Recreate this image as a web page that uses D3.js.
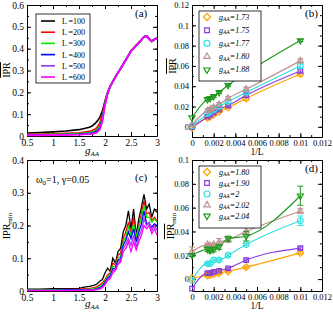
<!DOCTYPE html>
<html>
<head>
<meta charset="utf-8">
<script src="https://cdn.jsdelivr.net/npm/d3@7"></script>
<style>
body { margin: 0; background: #fff; }
text { font-family: "Liberation Serif", "DejaVu Serif", serif; fill: #000; }
</style>
</head>
<body>
<div id="chart"></div>
<script>
/* DATA */
// panels (a) and (c): system sizes
const sizeNames = ["100", "200", "300", "400", "500", "600"]
const sizeColors = ["#000000", "#ff0000", "#00ee00", "#0000ff", "#a035f0", "#ff00ff"]

// (a) mean IPR vs g_AA
const gA = [0.5, 0.75, 1, 1.25, 1.5, 1.6, 1.7, 1.75, 1.8, 1.85, 1.9, 1.95, 2, 2.05, 2.1, 2.2, 2.3, 2.4, 2.5, 2.6, 2.7, 2.75, 2.8, 2.85, 2.9, 2.95, 3]
const iprA100 = [0.014, 0.016, 0.019, 0.023, 0.029, 0.034, 0.040, 0.046, 0.055, 0.068, 0.085, 0.115, 0.160, 0.200, 0.228, 0.272, 0.310, 0.350, 0.390, 0.415, 0.440, 0.455, 0.458, 0.445, 0.433, 0.443, 0.448]
const iprA200 = [0.008, 0.009, 0.010, 0.012, 0.015, 0.018, 0.021, 0.025, 0.030, 0.040, 0.060, 0.100, 0.155, 0.198, 0.228, 0.272, 0.309, 0.349, 0.389, 0.415, 0.440, 0.455, 0.457, 0.445, 0.433, 0.442, 0.448]
const iprA300 = [0.006, 0.007, 0.008, 0.009, 0.011, 0.013, 0.016, 0.018, 0.022, 0.030, 0.045, 0.085, 0.150, 0.196, 0.227, 0.271, 0.309, 0.349, 0.389, 0.414, 0.440, 0.455, 0.457, 0.445, 0.434, 0.442, 0.448]
const iprA400 = [0.005, 0.005, 0.006, 0.007, 0.008, 0.010, 0.012, 0.014, 0.017, 0.024, 0.038, 0.078, 0.146, 0.195, 0.227, 0.271, 0.308, 0.348, 0.388, 0.414, 0.440, 0.455, 0.457, 0.445, 0.434, 0.442, 0.448]
const iprA500 = [0.004, 0.004, 0.005, 0.006, 0.007, 0.008, 0.010, 0.011, 0.014, 0.020, 0.033, 0.072, 0.143, 0.194, 0.226, 0.270, 0.308, 0.348, 0.388, 0.414, 0.440, 0.455, 0.457, 0.445, 0.434, 0.442, 0.448]
const iprA600 = [0.003, 0.003, 0.004, 0.005, 0.006, 0.007, 0.008, 0.009, 0.012, 0.017, 0.029, 0.066, 0.140, 0.193, 0.226, 0.270, 0.308, 0.348, 0.388, 0.414, 0.440, 0.455, 0.457, 0.445, 0.434, 0.442, 0.448]

// (c) IPR_min vs g_AA
const gC = [0.5, 0.75, 1, 1.25, 1.5, 1.6, 1.7, 1.8, 1.85, 1.9, 1.95, 2, 2.05, 2.1, 2.15, 2.2, 2.25, 2.3, 2.35, 2.4, 2.45, 2.5, 2.55, 2.6, 2.65, 2.7, 2.75, 2.8, 2.85, 2.9, 2.95, 3]
const iprC100 = [0.006, 0.006, 0.007, 0.007, 0.008, 0.012, 0.014, 0.018, 0.022, 0.030, 0.035, 0.055, 0.070, 0.060, 0.100, 0.085, 0.120, 0.130, 0.180, 0.200, 0.245, 0.190, 0.250, 0.170, 0.220, 0.255, 0.295, 0.250, 0.265, 0.225, 0.250, 0.240]
const iprC200 = [0.004, 0.004, 0.004, 0.005, 0.005, 0.007, 0.008, 0.010, 0.014, 0.018, 0.025, 0.035, 0.050, 0.055, 0.085, 0.080, 0.110, 0.115, 0.160, 0.180, 0.210, 0.175, 0.225, 0.160, 0.200, 0.235, 0.275, 0.235, 0.240, 0.215, 0.225, 0.215]
const iprC300 = [0.003, 0.003, 0.003, 0.004, 0.004, 0.005, 0.006, 0.007, 0.010, 0.013, 0.020, 0.030, 0.045, 0.050, 0.075, 0.075, 0.100, 0.105, 0.150, 0.165, 0.195, 0.170, 0.205, 0.165, 0.195, 0.225, 0.260, 0.225, 0.225, 0.210, 0.220, 0.210]
const iprC400 = [0.002, 0.002, 0.002, 0.003, 0.003, 0.004, 0.004, 0.005, 0.007, 0.010, 0.015, 0.026, 0.040, 0.046, 0.068, 0.070, 0.093, 0.098, 0.140, 0.155, 0.180, 0.160, 0.190, 0.150, 0.180, 0.205, 0.245, 0.205, 0.205, 0.195, 0.205, 0.200]
const iprC500 = [0.002, 0.002, 0.002, 0.002, 0.002, 0.003, 0.003, 0.004, 0.005, 0.008, 0.012, 0.022, 0.036, 0.042, 0.062, 0.066, 0.087, 0.092, 0.130, 0.142, 0.160, 0.140, 0.170, 0.135, 0.165, 0.185, 0.220, 0.200, 0.210, 0.185, 0.200, 0.185]
const iprC600 = [0.001, 0.001, 0.001, 0.001, 0.002, 0.002, 0.002, 0.003, 0.004, 0.006, 0.010, 0.019, 0.032, 0.038, 0.056, 0.062, 0.082, 0.088, 0.120, 0.130, 0.150, 0.120, 0.150, 0.125, 0.150, 0.170, 0.200, 0.190, 0.200, 0.175, 0.190, 0.170]

// (b) and (d): values against 1/L (first point is the L -> infinity estimate)
const invL = [0, 0.00143, 0.00167, 0.002, 0.0025, 0.00333, 0.005, 0.01]
const markerColors = ["#ffa500", "#8a3ee0", "#30e0e0", "#c09090", "#1f9a1f"]
const markerShapes = ["diamond", "square", "circle", "triangle", "triangleDown"]

const gB = ["1.73", "1.75", "1.77", "1.80", "1.88"]
const iprB173 = [-0.001, 0.009, 0.010, 0.012, 0.015, 0.019, 0.028, 0.052]
const iprB175 = [0.000, 0.010, 0.012, 0.014, 0.017, 0.021, 0.031, 0.055]
const iprB177 = [0.001, 0.013, 0.015, 0.017, 0.020, 0.025, 0.034, 0.060]
const iprB180 = [0.002, 0.016, 0.017, 0.019, 0.022, 0.028, 0.037, 0.065]
const iprB188 = [0.009, 0.027, 0.028, 0.030, 0.034, 0.041, 0.053, 0.085]
const errB173 = [0, 0.001, 0.001, 0.001, 0.001, 0.001, 0.002, 0.002]
const errB175 = [0, 0.001, 0.001, 0.001, 0.001, 0.001, 0.002, 0.002]
const errB177 = [0, 0.002, 0.002, 0.002, 0.002, 0.002, 0.002, 0.002]
const errB180 = [0, 0.002, 0.002, 0.002, 0.002, 0.002, 0.002, 0.002]
const errB188 = [0, 0.001, 0.001, 0.001, 0.001, 0.001, 0.001, 0.001]

const gD = ["1.80", "1.90", "2", "2.02", "2.04"]
const iprD180 = [0.001, 0.003, 0.0035, 0.004, 0.005, 0.0065, 0.010, 0.022]
const iprD190 = [-0.008, 0.005, 0.005, 0.006, 0.007, 0.009, 0.016, 0.026]
const iprD200 = [-0.001, 0.013, 0.013, 0.016, 0.016, 0.020, 0.029, 0.049]
const iprD202 = [0.023, 0.029, 0.028, 0.029, 0.031, 0.033, 0.040, 0.057]
const iprD204 = [0.020, 0.025, 0.024, 0.025, 0.027, 0.034, 0.036, 0.070]
const errD180 = [0, 0.001, 0.001, 0.001, 0.001, 0.001, 0.001, 0.001]
const errD190 = [0, 0.001, 0.001, 0.001, 0.001, 0.001, 0.001, 0.001]
const errD200 = [0, 0.001, 0.001, 0.001, 0.001, 0.001, 0.001, 0.004]
const errD202 = [0.004, 0.001, 0.001, 0.001, 0.003, 0.002, 0.004, 0.002]
const errD204 = [0.001, 0.002, 0.002, 0.002, 0.002, 0.002, 0.004, 0.008]

/* SVG */
const svg = d3.select("#chart").append("svg")
  .attr("width", 333)
  .attr("height", 313)

const fmt = d3.format("~g")

// build a framed panel with inward ticks on all four sides
function makePanel(p) {
  const x = d3.scaleLinear().domain(p.xd).range([p.x0, p.x1])
  const y = d3.scaleLinear().domain(p.yd).range([p.y1, p.y0])
  const xMaj = d3.range(p.xd[0], p.xd[1] + 1e-9, p.xStep)
  const xMin = d3.range(p.xd[0], p.xd[1] + 1e-9, p.xStep / 2)
  const yMaj = d3.range(p.yFirst, p.yd[1] + 1e-9, p.yStep)
  const yMin = d3.range(p.yd[0], p.yd[1] + 1e-9, p.yStep / 2)

  const g = svg.append("g")
  const sides = [
    [() => d3.axisBottom(x), p.y1, "x", true],
    [() => d3.axisTop(x), p.y0, "x", false],
    [() => d3.axisLeft(y), p.x0, "y", true],
    [() => d3.axisRight(y), p.x1, "y", false]
  ]
  sides.forEach(([mk, pos, dim, labels]) => {
    const tr = dim === "x" ? `translate(0,${pos})` : `translate(${pos},0)`
    // minor ticks
    g.append("g").attr("transform", tr)
      .call(mk().tickValues(dim === "x" ? xMin : yMin).tickSizeInner(-2).tickSizeOuter(0).tickFormat(""))
      .call(s => s.select(".domain").remove())
    // major ticks + frame
    g.append("g").attr("transform", tr)
      .call(mk().tickValues(dim === "x" ? xMaj : yMaj).tickSizeInner(-4).tickSizeOuter(0)
        .tickPadding(3).tickFormat(labels ? fmt : ""))
      .call(s => s.selectAll("text").style("font-family", "Liberation Serif").style("font-size", p.fs + "px").attr("fill", "#000"))
      .call(s => s.select(".domain").attr("stroke", "#000"))
  })
  g.selectAll("line").attr("stroke", "#000")
  return { g, x, y }
}

function panelTag(x, y, s) {
  svg.append("text").attr("x", x).attr("y", y).style("font-size", "11px").text(s)
}

/* PANEL (a) */
const A = makePanel({ x0: 27, x1: 157, y0: 5, y1: 136, xd: [0.5, 3], yd: [0, 0.6], xStep: 0.5, yStep: 0.1, yFirst: 0, fs: 9.5 })
const seriesA = [iprA100, iprA200, iprA300, iprA400, iprA500, iprA600]
const lineA = d3.line().x((d, i) => A.x(gA[i])).y(d => A.y(d))
A.g.selectAll(".lineA").data(seriesA).join("path")
  .attr("d", d => lineA(d))
  .attr("fill", "none")
  .attr("stroke", (d, i) => sizeColors[i])
  .attr("stroke-width", 1.6)

// legend (a)
const legA = svg.append("g")
legA.append("rect").attr("x", 36).attr("y", 14).attr("width", 54).attr("height", 69)
  .attr("fill", "#fff").attr("stroke", "#000").attr("stroke-width", 0.8)
sizeNames.forEach((n, i) => {
  const yy = 21 + i * 11.2
  legA.append("line").attr("x1", 41).attr("x2", 55).attr("y1", yy).attr("y2", yy)
    .attr("stroke", sizeColors[i]).attr("stroke-width", 1.6)
  legA.append("text").attr("x", 62).attr("y", yy + 3).style("font-size", "8px").text("L =" + n)
})
panelTag(135, 17, "(a)")

/* PANEL (c) */
const C = makePanel({ x0: 27, x1: 157, y0: 160, y1: 291, xd: [0.5, 3], yd: [0, 0.4], xStep: 0.5, yStep: 0.1, yFirst: 0, fs: 9.5 })
const seriesC = [iprC100, iprC200, iprC300, iprC400, iprC500, iprC600]
const lineC = d3.line().x((d, i) => C.x(gC[i])).y(d => C.y(d))
C.g.selectAll(".lineC").data(seriesC).join("path")
  .attr("d", d => lineC(d))
  .attr("fill", "none")
  .attr("stroke", (d, i) => sizeColors[i])
  .attr("stroke-width", 1.3)
const omega = svg.append("text").attr("x", 36).attr("y", 183).style("font-size", "10px")
omega.append("tspan").text("ω")
omega.append("tspan").attr("dy", 2).style("font-size", "7px").text("0")
omega.append("tspan").attr("dy", -2).text("=1, γ=0.05")
panelTag(135, 181, "(c)")

/* PANELS (b) and (d) */
function symbolOf(name) {
  if (name === "diamond") return d3.symbolDiamond2
  if (name === "square") return d3.symbolSquare2
  if (name === "circle") return d3.symbolCircle
  return d3.symbolTriangle2
}

function markerPanel(p, series, errs, names, tag) {
  const P = makePanel(p)
  const line = d3.line().curve(d3.curveMonotoneX).x((d, i) => P.x(invL[i])).y(d => P.y(d))
  series.forEach((vals, k) => {
    P.g.append("path").attr("d", line(vals))
      .attr("fill", "none").attr("stroke", markerColors[k]).attr("stroke-width", 1.2)
  })
  series.forEach((vals, k) => {
    const sym = d3.symbol().type(symbolOf(markerShapes[k])).size(markerShapes[k] === "diamond" ? 30 : 26)
    vals.forEach((v, i) => {
      const cx = P.x(invL[i]), cy = P.y(v)
      const e = errs[k][i]
      if (e > 0) {
        const y1 = P.y(v - e), y2 = P.y(v + e)
        P.g.append("line").attr("x1", cx).attr("x2", cx).attr("y1", y1).attr("y2", y2)
          .attr("stroke", markerColors[k]).attr("stroke-width", 1)
        ;[y1, y2].forEach(yy => P.g.append("line").attr("x1", cx - 3).attr("x2", cx + 3)
          .attr("y1", yy).attr("y2", yy).attr("stroke", markerColors[k]).attr("stroke-width", 1))
      }
      P.g.append("path").attr("d", sym())
        .attr("transform", `translate(${cx},${cy})${markerShapes[k] === "triangleDown" ? " rotate(180)" : ""}`)
        .attr("fill", "none").attr("stroke", markerColors[k]).attr("stroke-width", 1.2)
    })
  })
  // legend
  const L = svg.append("g")
  L.append("rect").attr("x", p.lx).attr("y", p.ly).attr("width", 62).attr("height", p.lh)
    .attr("fill", "#fff").attr("stroke", "#000").attr("stroke-width", 0.8)
  names.forEach((n, k) => {
    const yy = p.ly + 6 + k * p.lstep
    const sym = d3.symbol().type(symbolOf(markerShapes[k])).size(markerShapes[k] === "diamond" ? 32 : 28)
    L.append("path").attr("d", sym())
      .attr("transform", `translate(${p.lx + 8},${yy})${markerShapes[k] === "triangleDown" ? " rotate(180)" : ""}`)
      .attr("fill", "none").attr("stroke", markerColors[k]).attr("stroke-width", 1.2)
    const t = L.append("text").attr("x", p.lx + 20).attr("y", yy + 2.5)
      .style("font-size", "8px").style("font-style", "italic")
    t.append("tspan").text("g")
    t.append("tspan").attr("dy", 1.5).style("font-size", "5.5px").text("AA")
    t.append("tspan").attr("dy", -1.5).text("=" + n)
  })
  panelTag(p.x1 - 17, p.y0 + 12, tag)
  return P
}

markerPanel({ x0: 192, x1: 322, y0: 5, y1: 137, xd: [0, 0.012], yd: [-0.01, 0.12], xStep: 0.002, yStep: 0.02, yFirst: 0, fs: 8.5,
  lx: 199, ly: 11, lh: 70, lstep: 13.2 },
  [iprB173, iprB175, iprB177, iprB180, iprB188],
  [errB173, errB175, errB177, errB180, errB188], gB, "(b)")

markerPanel({ x0: 192, x1: 322, y0: 160, y1: 291, xd: [0, 0.012], yd: [-0.01, 0.1], xStep: 0.002, yStep: 0.02, yFirst: 0, fs: 8.5,
  lx: 199, ly: 166, lh: 62, lstep: 11 },
  [iprD180, iprD190, iprD200, iprD202, iprD204],
  [errD180, errD190, errD200, errD202, errD204], gD, "(d)")

/* AXIS TITLES */
function gAA(x, y) {
  const t = svg.append("text").attr("x", x).attr("y", y).attr("text-anchor", "middle")
    .style("font-size", "11px").style("font-style", "italic")
  t.append("tspan").text("g")
  t.append("tspan").attr("dy", 2).style("font-size", "7px").text("AA")
}
gAA(92, 154)
gAA(92, 307)
svg.append("text").attr("x", 257).attr("y", 155).attr("text-anchor", "middle").style("font-size", "9.5px").text("1/L")
svg.append("text").attr("x", 257).attr("y", 309).attr("text-anchor", "middle").style("font-size", "9.5px").text("1/L")

function yTitle(x, y, sub, over) {
  const t = svg.append("text").attr("transform", `translate(${x},${y}) rotate(-90)`)
    .attr("text-anchor", "middle").style("font-size", "10px")
  t.append("tspan").style("text-decoration", over ? "overline" : "none").text("IPR")
  if (sub) t.append("tspan").attr("dy", 2).style("font-size", "7px").text("min")
}
yTitle(10, 70, false, true)
yTitle(176, 66, false, true)
yTitle(10, 226, true, false)
yTitle(174, 226, true, true)
</script>
</body>
</html>
